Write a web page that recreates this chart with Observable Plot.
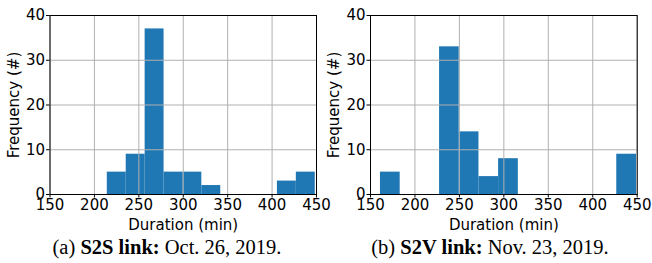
<!DOCTYPE html>
<html>
<head>
<meta charset="utf-8">
<script src="https://cdn.jsdelivr.net/npm/d3@7"></script>
<script src="https://cdn.jsdelivr.net/npm/@observablehq/plot@0.6"></script>
<style>
  html, body { margin: 0; padding: 0; background: white; }
  #root { position: relative; width: 652px; height: 263px; overflow: hidden; background: white; }
  .panel { position: absolute; top: 0; width: 326px; height: 263px; }
  .panel svg { position: absolute; left: 0; top: 0; overflow: visible; }
  .cap { position: absolute; top: 236px; font-family: "Liberation Serif", "Times New Roman", serif; font-size: 20.5px; line-height: 23px; white-space: nowrap; transform: translateX(-50%); color: #000; }
</style>
</head>
<body>
<div id="root">
  <div class="panel" id="pa" style="left:0px"></div>
  <div class="panel" id="pb" style="left:326px"></div>
  <div class="cap" style="left:167px">(a) <b>S2S link:</b> Oct. 26, 2019.</div>
  <div class="cap" style="left:490px">(b) <b>S2V link:</b> Nov. 23, 2019.</div>
</div>
<script>
const s2sEdges = [214.5, 235.8, 257.1, 278.4, 299.6, 320.9, 342.2, 363.5, 384.8, 406.0, 427.3, 448.6];
const s2sCounts = [5, 9, 37, 5, 5, 2, 0, 0, 0, 3, 5];
const s2vEdges = [161.2, 183.4, 205.5, 227.7, 249.8, 272.0, 294.1, 316.3, 338.4, 360.6, 382.7, 404.9, 427.0, 449.2];
const s2vCounts = [5, 0, 0, 33, 14, 4, 8, 0, 0, 0, 0, 0, 9];
const xTicks = [150, 200, 250, 300, 350, 400, 450];
const yTicks = [0, 10, 20, 30, 40];

function hist(edges, counts, ml, mr) {
  const data = counts.map((c, i) => ({x1: edges[i], x2: edges[i + 1], y: c})).filter(d => d.y > 0);
  return Plot.plot({
    width: 326, height: 232,
    marginLeft: ml, marginRight: mr, marginTop: 15, marginBottom: 38,
    x: {domain: [150, 450]},
    y: {domain: [0, 40]},
    style: {fontFamily: "DejaVu Sans", fontSize: "15px", color: "#000", background: "transparent"},
    marks: [
      Plot.rectY(data, {x1: "x1", x2: "x2", y: "y", fill: "#1f77b4", inset: 0}),
      Plot.gridX(xTicks, {stroke: "#b0b0b0", strokeOpacity: 1, strokeWidth: 1}),
      Plot.gridY(yTicks, {stroke: "#b0b0b0", strokeOpacity: 1, strokeWidth: 1}),
      Plot.frame({stroke: "#000", strokeWidth: 1}),
      Plot.axisX(xTicks, {tickSize: 3.5, tickPadding: 1, label: "Duration (min)", labelAnchor: "center", labelArrow: "none", labelOffset: 35, fontSize: 15}),
      Plot.axisY(yTicks, {tickSize: 3.5, tickPadding: 1.5, label: "Frequency (#)", labelAnchor: "center", labelArrow: "none", labelOffset: 42, fontSize: 15})
    ]
  });
}

document.getElementById("pa").appendChild(hist(s2sEdges, s2sCounts, 49.5, 10));
document.getElementById("pb").appendChild(hist(s2vEdges, s2vCounts, 44, 15.3));
</script>
</body>
</html>
